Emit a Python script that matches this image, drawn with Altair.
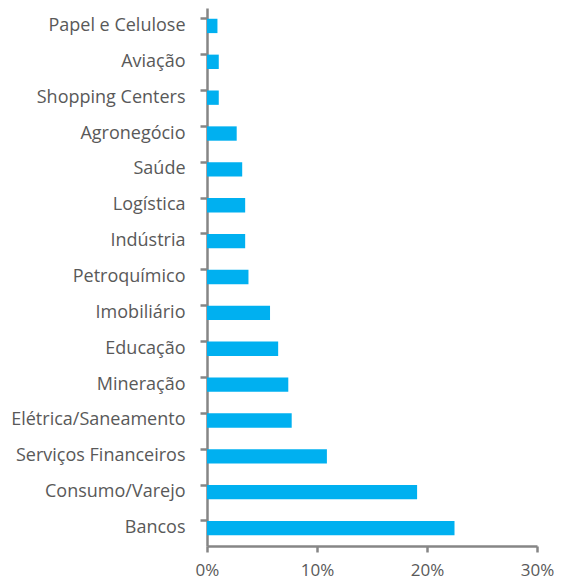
import altair as alt
import pandas as pd

sectors = ["Papel e Celulose", "Aviação", "Shopping Centers", "Agronegócio", "Saúde",
           "Logística", "Indústria", "Petroquímico", "Imobiliário", "Educação",
           "Mineração", "Elétrica/Saneamento", "Serviços Financeiros", "Consumo/Varejo", "Bancos"]
shares = [0.0095, 0.0107, 0.0107, 0.027, 0.032, 0.0347, 0.0347, 0.0377, 0.0573, 0.0647,
          0.0739, 0.077, 0.109, 0.191, 0.225]

df = pd.DataFrame({"sector": sectors, "share": shares})

FONT = "Open Sans"
GRAY = "#868686"
TXT = "#595959"

chart = alt.Chart(df).mark_bar(color="#00B0F0").encode(
    x=alt.X("share:Q",
            scale=alt.Scale(domain=[0, 0.30], nice=False),
            axis=alt.Axis(format=".0%", values=[0, 0.1, 0.2, 0.3], grid=False,
                          title=None, domainColor=GRAY, domainWidth=2.5,
                          tickColor=GRAY, tickWidth=2.5, tickSize=6,
                          labelFont=FONT, labelFontSize=17, labelColor=TXT,
                          labelFlush=False, labelPadding=10)),
    y=alt.Y("sector:N", sort=sectors,
            scale=alt.Scale(paddingInner=0.6, paddingOuter=0.3),
            axis=alt.Axis(title=None, grid=False, bandPosition=0,
                          domainColor=GRAY, domainWidth=2.5,
                          tickColor=GRAY, tickWidth=2.5, tickSize=7,
                          labelFont=FONT, labelFontSize=18, labelColor=TXT,
                          labelPadding=15)),
).properties(
    width=330, height=538,
    autosize=alt.AutoSizeParams(type="none"),
    padding={"left": 199, "top": 0, "right": 17, "bottom": 34},
).configure(background="white").configure_view(strokeWidth=0)

chart.save("out.html", embed_options={"renderer": "svg", "actions": False})
